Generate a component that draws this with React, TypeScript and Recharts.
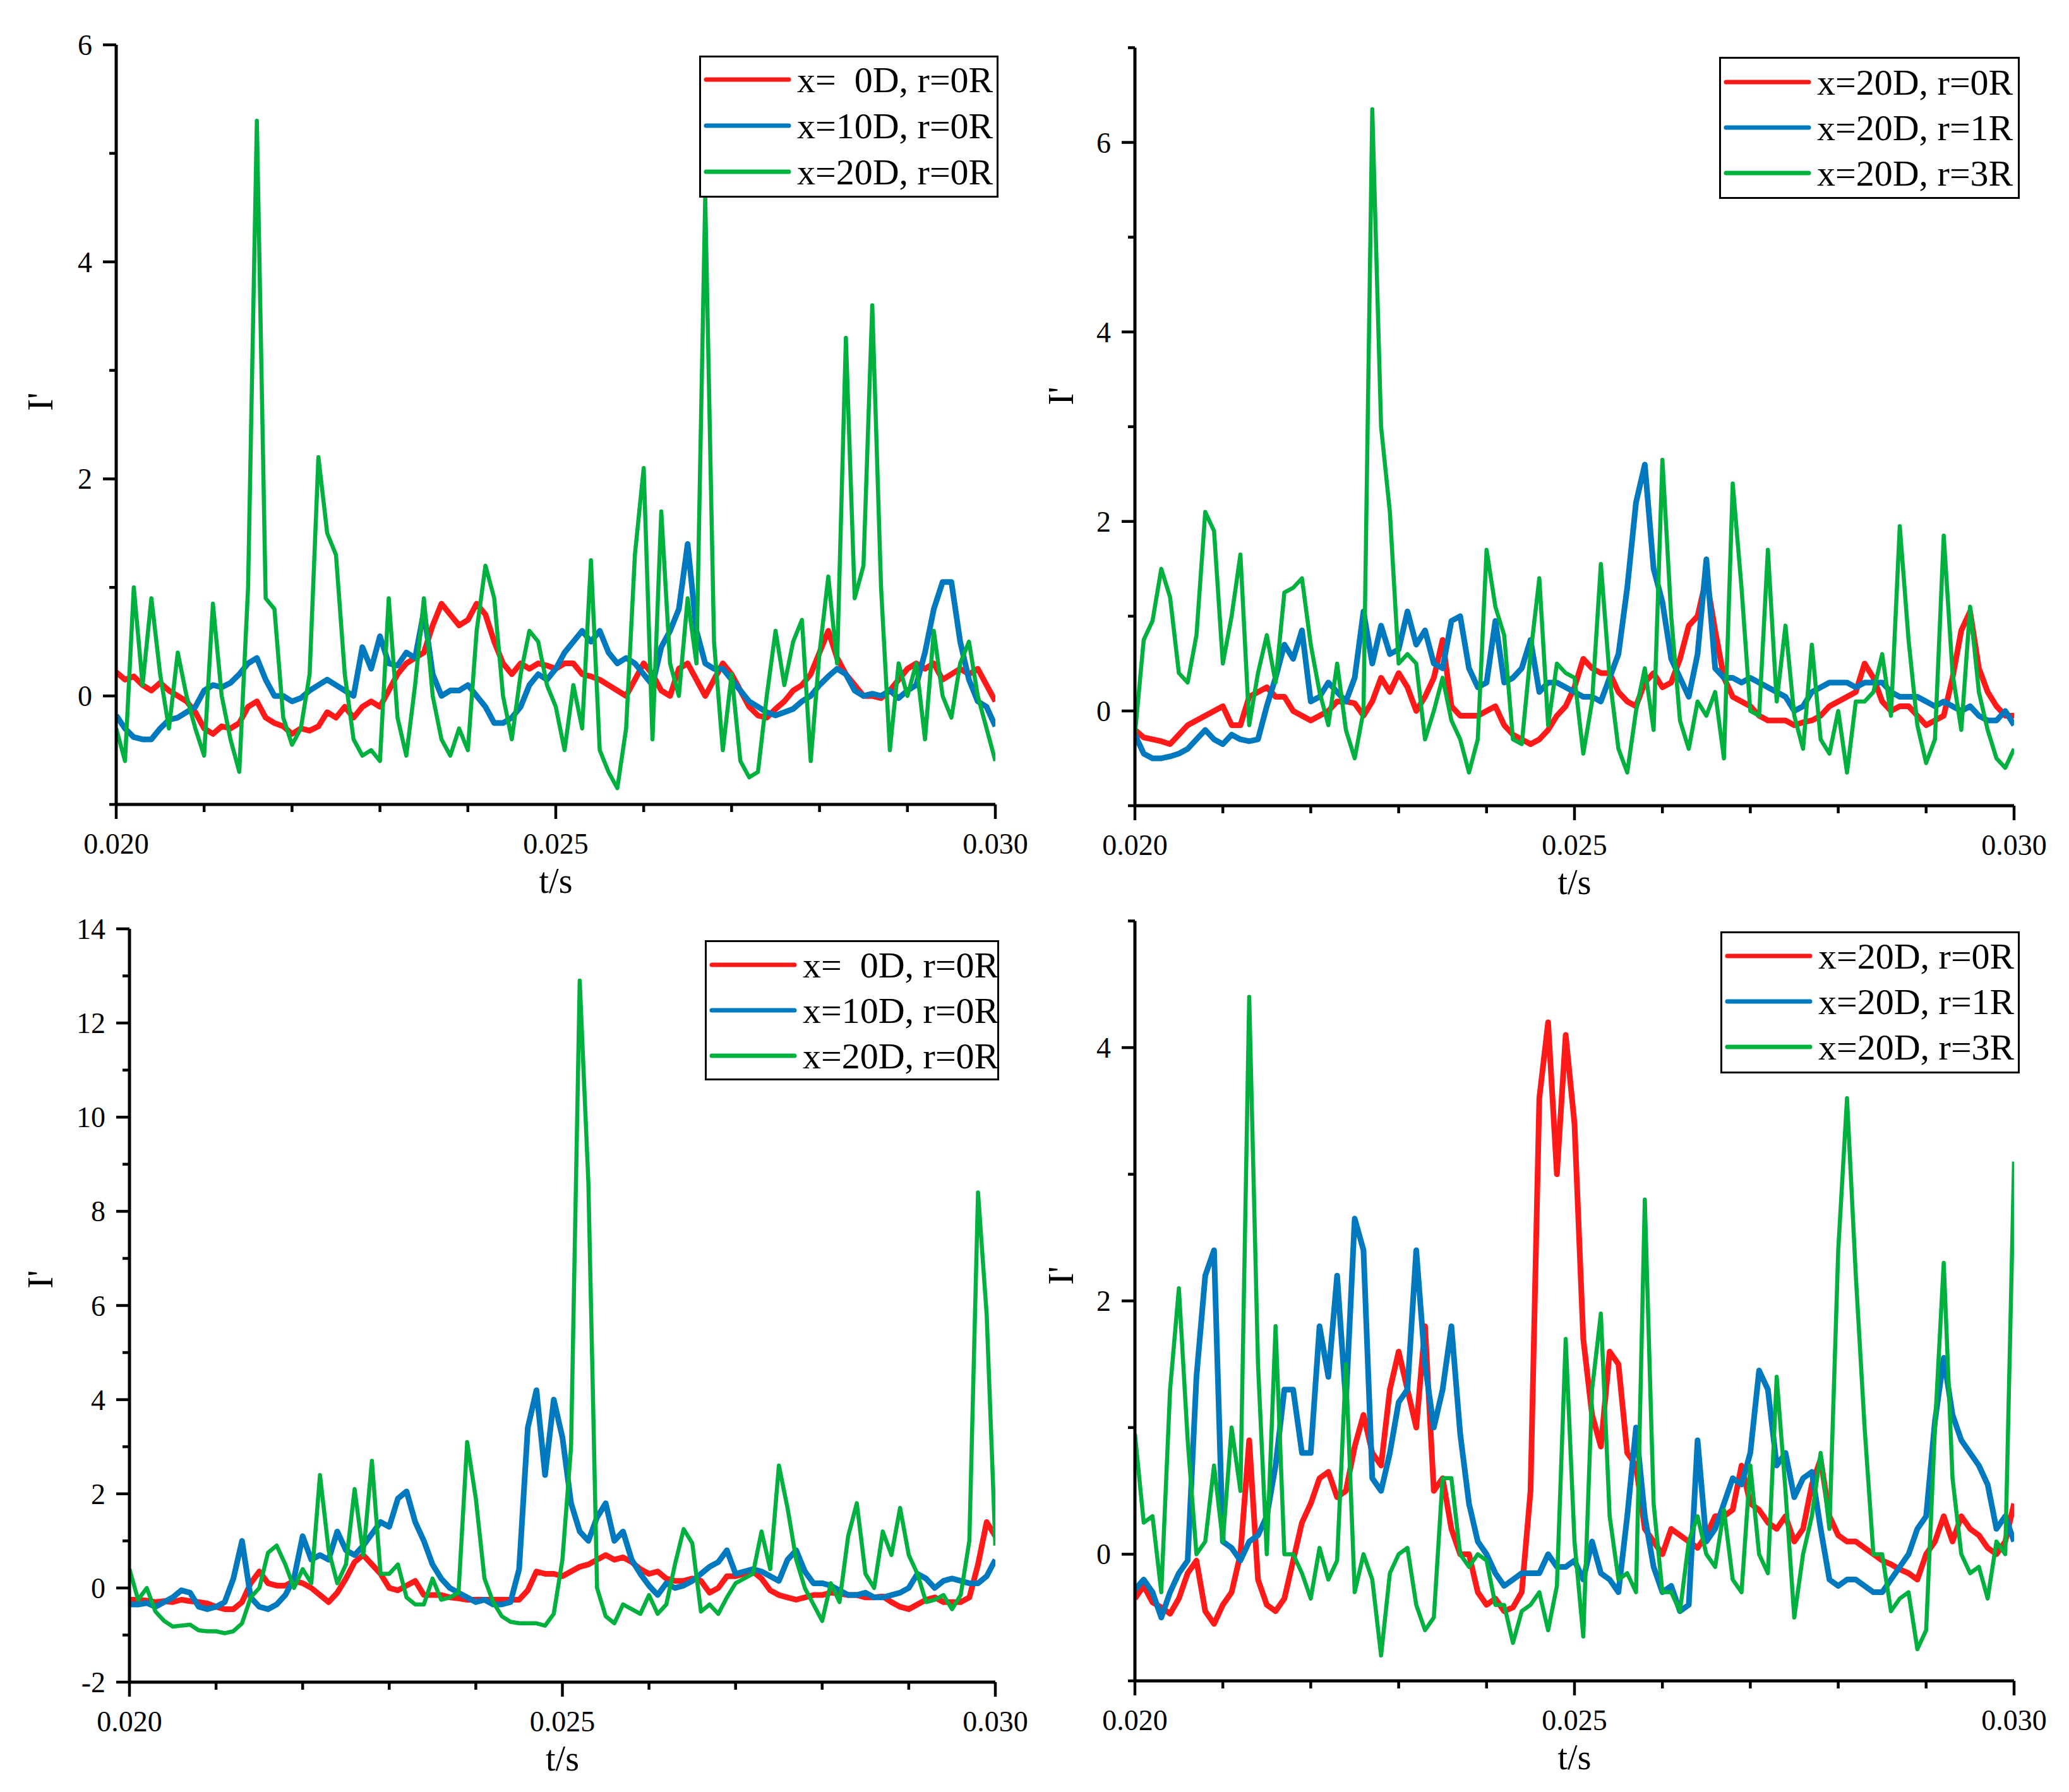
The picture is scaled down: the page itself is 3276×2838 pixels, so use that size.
import React from 'react';
import { LineChart, Line, XAxis, YAxis, Legend } from 'recharts';

const FONT = '"Liberation Serif", "Times New Roman", serif';
const COLORS = ['#FF1A1A', '#0079BF', '#00B140'];
const WIDTHS = [9, 9, 6.5];

// time grid (s)
const TIME = Array.from({ length: 101 }, (_, i) => +(0.02 + i * 0.0001).toFixed(4));
const X_TICKS = [0.02, 0.021, 0.022, 0.023, 0.024, 0.025, 0.026, 0.027, 0.028, 0.029, 0.03];
const X_MAJOR = [0.02, 0.025, 0.03];

const LABELS_X = ['x=\u00A0\u00A00D, r=0R', 'x=10D, r=0R', 'x=20D, r=0R'];
const LABELS_R = ['x=20D, r=0R', 'x=20D, r=1R', 'x=20D, r=3R'];

// panel (a) top-left
const A_RED = [
  0.22, 0.15, 0.18, 0.1, 0.05, 0.12, 0.05, 0.0, -0.05, -0.15,
  -0.3, -0.35, -0.28, -0.3, -0.25, -0.1, -0.05, -0.2, -0.25, -0.28,
  -0.35, -0.3, -0.32, -0.28, -0.15, -0.2, -0.1, -0.2, -0.1, -0.05,
  -0.1, 0.05, 0.2, 0.3, 0.35, 0.4, 0.65, 0.85, 0.75, 0.65,
  0.7, 0.85, 0.75, 0.5, 0.3, 0.2, 0.3, 0.25, 0.3, 0.28,
  0.25, 0.3, 0.3, 0.2, 0.18, 0.15, 0.1, 0.05, 0.0, 0.15,
  0.3, 0.2, 0.05, 0.0, 0.25, 0.3, 0.15, 0.0, 0.15, 0.3,
  0.2, 0.05, -0.1, -0.18, -0.2, -0.12, -0.05, 0.05, 0.1, 0.2,
  0.4, 0.6, 0.35, 0.2, 0.1, 0.0, 0.0, -0.02, 0.05, 0.15,
  0.25, 0.3, 0.25, 0.3, 0.15, 0.2, 0.25, 0.2, 0.25, 0.1,
  -0.05,
];
const A_BLUE = [
  -0.18, -0.3, -0.38, -0.4, -0.4, -0.3, -0.22, -0.2, -0.15, -0.1,
  0.05, 0.1, 0.08, 0.12, 0.2, 0.3, 0.35, 0.15, 0.0, 0.0,
  -0.05, -0.02, 0.05, 0.1, 0.15, 0.1, 0.05, 0.0, 0.45, 0.25,
  0.55, 0.3, 0.28, 0.4, 0.35, 0.78, 0.2, 0.0, 0.05, 0.05,
  0.1, 0.0, -0.1, -0.25, -0.25, -0.2, -0.1, 0.1, 0.2, 0.15,
  0.25, 0.4, 0.5, 0.6, 0.5, 0.6, 0.4, 0.3, 0.35, 0.3,
  0.2, 0.1, 0.45, 0.6, 0.8, 1.4, 0.6, 0.3, 0.25, 0.25,
  0.15, 0.05, -0.05, -0.1, -0.15, -0.18, -0.15, -0.12, -0.05, 0.0,
  0.1, 0.18, 0.25, 0.2, 0.05, 0.0, 0.02, 0.0, 0.05, -0.02,
  0.05, 0.1, 0.4, 0.8, 1.05, 1.05, 0.5, 0.15, -0.05, -0.1,
  -0.28,
];
const A_GREEN = [
  -0.3, -0.6, 1.0, 0.1, 0.9, 0.2, -0.3, 0.4, 0.0, -0.3,
  -0.55, 0.85, 0.0, -0.4, -0.7, 1.0, 5.3, 0.9, 0.8, -0.2,
  -0.45, -0.3, 0.2, 2.2, 1.5, 1.3, 0.2, -0.4, -0.55, -0.5,
  -0.6, 0.9, -0.2, -0.55, 0.1, 0.9, 0.0, -0.4, -0.55, -0.3,
  -0.5, 0.6, 1.2, 0.9, 0.0, -0.4, 0.2, 0.6, 0.5, 0.1,
  -0.1, -0.5, 0.1, -0.3, 1.25, -0.5, -0.7, -0.85, -0.3, 1.3,
  2.1, -0.4, 1.7, 0.3, 0.0, 0.9, 0.3, 4.6, 0.5, -0.5,
  0.2, -0.6, -0.75, -0.7, 0.0, 0.6, 0.1, 0.5, 0.7, -0.6,
  0.4, 1.1, 0.3, 3.3, 0.9, 1.2, 3.6, 1.0, -0.5, 0.3,
  0.0, 0.3, -0.4, 0.6, 0.0, -0.2, 0.3, 0.5, 0.0, -0.3,
  -0.6,
];

// panel (b) top-right
const B_RED = [
  -0.2, -0.28, -0.3, -0.32, -0.35, -0.25, -0.15, -0.1, -0.05, 0.0,
  0.05, -0.15, -0.15, 0.15, 0.2, 0.25, 0.15, 0.15, 0.0, -0.05,
  -0.1, -0.05, 0.0, 0.1, 0.1, 0.08, -0.05, 0.1, 0.35, 0.2,
  0.4, 0.25, 0.0, 0.15, 0.35, 0.75, 0.05, -0.05, -0.05, -0.05,
  0.0, 0.05, -0.15, -0.25, -0.3, -0.35, -0.3, -0.2, -0.05, 0.05,
  0.25, 0.55, 0.45, 0.4, 0.4, 0.2, 0.1, 0.05, 0.3, 0.4,
  0.25, 0.3, 0.55, 0.9, 1.0, 1.4, 0.85, 0.35, 0.15, 0.1,
  0.05, -0.05, -0.1, -0.1, -0.1, -0.15, -0.12, -0.1, -0.05, 0.05,
  0.1, 0.15, 0.2, 0.5, 0.35, 0.1, 0.0, 0.05, 0.05, -0.05,
  -0.15, -0.1, -0.05, 0.35, 0.85, 1.05, 0.45, 0.2, 0.05, -0.05,
  -0.05,
];
const B_BLUE = [
  -0.25, -0.45, -0.5, -0.5, -0.48, -0.45, -0.4, -0.3, -0.2, -0.3,
  -0.35, -0.25, -0.3, -0.32, -0.3, 0.05, 0.35, 0.7, 0.55, 0.85,
  0.1, 0.15, 0.3, 0.2, 0.1, 0.35, 1.05, 0.5, 0.9, 0.6,
  0.65, 1.05, 0.7, 0.85, 0.5, 0.45, 0.95, 1.0, 0.45, 0.25,
  0.3, 0.95, 0.3, 0.35, 0.45, 0.75, 0.2, 0.3, 0.3, 0.25,
  0.2, 0.15, 0.15, 0.1, 0.35, 0.6, 1.3, 2.2, 2.6, 1.5,
  1.15, 0.55, 0.35, 0.15, 0.6, 1.6, 0.45, 0.35, 0.35, 0.3,
  0.35, 0.3, 0.25, 0.2, 0.15, 0.0, 0.05, 0.2, 0.25, 0.3,
  0.3, 0.3, 0.25, 0.3, 0.3, 0.3, 0.2, 0.15, 0.15, 0.15,
  0.1, 0.05, 0.1, 0.05, 0.0, 0.05, -0.05, -0.1, -0.1, 0.0,
  -0.15,
];
const B_GREEN = [
  -0.25, 0.75, 0.95, 1.5, 1.2, 0.4, 0.3, 0.8, 2.1, 1.9,
  0.5, 1.0, 1.65, -0.15, 0.4, 0.8, 0.3, 1.25, 1.3, 1.4,
  0.7, 0.2, -0.15, 0.5, -0.2, -0.5, 0.0, 6.35, 3.0, 2.1,
  0.5, 0.6, 0.5, -0.3, 0.0, 0.35, -0.1, -0.3, -0.65, -0.3,
  1.7, 1.1, 0.8, -0.3, -0.35, 0.6, 1.4, -0.15, 0.5, 0.4,
  0.35, -0.45, 0.1, 1.55, 0.35, -0.4, -0.65, 0.0, 0.45, -0.2,
  2.65, 1.0, -0.1, -0.4, 0.1, -0.05, 0.2, -0.5, 2.4, 1.3,
  0.0, -0.05, 1.7, 0.1, 0.9, -0.05, -0.4, 0.7, -0.3, -0.45,
  0.0, -0.65, 0.1, 0.1, 0.2, 0.6, -0.05, 1.95, 0.75, -0.15,
  -0.55, -0.3, 1.85, 0.4, -0.2, 1.1, 0.2, -0.2, -0.5, -0.6,
  -0.4,
];

// panel (c) bottom-left
const C_RED = [
  -0.25, -0.25, -0.27, -0.3, -0.28, -0.3, -0.25, -0.28, -0.3, -0.33,
  -0.4, -0.45, -0.45, -0.3, 0.1, 0.35, 0.1, 0.05, 0.05, 0.15,
  0.1, 0.0, -0.15, -0.3, -0.1, 0.2, 0.55, 0.7, 0.5, 0.3,
  0.0, -0.05, 0.05, 0.15, -0.15, -0.15, -0.15, -0.2, -0.22, -0.25,
  -0.25, -0.25, -0.25, -0.25, -0.25, -0.25, -0.05, 0.35, 0.3, 0.3,
  0.25, 0.35, 0.45, 0.5, 0.6, 0.7, 0.6, 0.65, 0.55, 0.4,
  0.3, 0.35, 0.2, 0.15, 0.15, 0.2, 0.15, -0.1, 0.0, 0.25,
  0.25, 0.3, 0.35, 0.2, -0.05, -0.15, -0.2, -0.25, -0.2, -0.15,
  -0.15, -0.1, -0.12, -0.15, -0.15, -0.2, -0.2, -0.18, -0.3, -0.4,
  -0.45, -0.35, -0.25, -0.2, -0.3, -0.3, -0.3, -0.2, 0.5, 1.4,
  1.1,
];
const C_BLUE = [
  -0.35, -0.35, -0.32, -0.4, -0.3, -0.2, -0.05, -0.1, -0.4, -0.45,
  -0.4, -0.3, 0.2, 1.0, -0.2, -0.4, -0.45, -0.35, -0.15, 0.2,
  1.1, 0.6, 0.7, 0.6, 1.2, 0.8, 0.7, 0.9, 1.15, 1.4,
  1.3, 1.9, 2.05, 1.4, 1.0, 0.5, 0.2, 0.0, -0.1, -0.2,
  -0.3, -0.25, -0.35, -0.35, -0.3, 0.4, 3.4, 4.2, 2.4, 4.0,
  3.2, 1.8, 1.2, 1.0, 1.5, 1.8, 1.0, 1.2, 0.6, 0.3,
  0.05, -0.15, 0.1, 0.0, 0.05, 0.15, 0.3, 0.45, 0.55, 0.8,
  0.3, 0.35, 0.4, 0.35, 0.25, 0.15, 0.6, 0.8, 0.35, 0.1,
  0.1, 0.05, -0.05, -0.15, -0.15, -0.1, -0.2, -0.2, -0.15, -0.1,
  0.0, 0.3, 0.2, 0.0, 0.15, 0.2, 0.15, 0.1, 0.1, 0.25,
  0.6,
];
const C_GREEN = [
  0.4, -0.25, 0.0, -0.5, -0.7, -0.82, -0.8, -0.78, -0.9, -0.92,
  -0.92, -0.96, -0.92, -0.75, -0.2, 0.0, 0.75, 0.9, 0.5, 0.0,
  0.4, 0.1, 2.4, 0.8, 0.1, 0.5, 2.1, 0.7, 2.7, 0.3,
  0.3, 0.5, -0.2, -0.35, -0.35, 0.2, -0.25, -0.2, -0.1, 3.1,
  1.9, 0.2, -0.3, -0.6, -0.72, -0.75, -0.75, -0.75, -0.8, -0.55,
  0.6, 3.0, 12.9, 8.6, 0.0, -0.6, -0.75, -0.35, -0.45, -0.55,
  -0.15, -0.55, -0.35, 0.5, 1.25, 0.95, -0.5, -0.35, -0.55, -0.2,
  0.1, 0.2, 0.3, 1.2, 0.4, 2.6, 1.7, 0.6, 0.0, -0.35,
  -0.7, 0.1, -0.3, 1.1, 1.8, 0.3, 0.0, 1.2, 0.7, 1.7,
  0.7, 0.3, -0.3, -0.25, -0.15, -0.45, -0.15, 1.0, 8.4, 5.8,
  0.9,
];

// panel (d) bottom-right
const D_RED = [
  -0.35, -0.25, -0.38, -0.42, -0.47, -0.35, -0.15, -0.05, -0.45, -0.55,
  -0.4, -0.3, 0.0, 0.9, -0.2, -0.4, -0.45, -0.35, -0.05, 0.25,
  0.4, 0.6, 0.65, 0.45, 0.5, 0.85, 1.1, 0.8, 0.7, 1.3,
  1.6, 1.3, 1.0, 1.8, 0.5, 0.6, 0.2, 0.0, 0.0, -0.3,
  -0.4, -0.35, -0.45, -0.42, -0.3, 0.5, 3.6, 4.2, 3.0, 4.1,
  3.4, 1.7, 1.1, 0.85, 1.6, 1.5, 0.8, 0.7, 0.2, 0.1,
  0.0, 0.2, 0.15, 0.1, 0.05, 0.15, 0.3, 0.3, 0.35, 0.7,
  0.4, 0.35, 0.25, 0.2, 0.3, 0.1, 0.2, 0.55, 0.75, 0.3,
  0.15, 0.1, 0.1, 0.05, 0.0, -0.05, -0.08, -0.12, -0.15, -0.2,
  0.0, 0.1, 0.3, 0.1, 0.3, 0.2, 0.15, 0.05, 0.0, 0.1,
  0.4,
];
const D_BLUE = [
  -0.28, -0.2, -0.3, -0.5, -0.3, -0.15, -0.05, 1.4, 2.2, 2.4,
  0.1, 0.05, -0.05, 0.1, 0.15, 0.3, 0.7, 1.3, 1.3, 0.8,
  0.8, 1.8, 1.4, 2.2, 1.2, 2.65, 2.4, 0.6, 0.5, 0.8,
  1.2, 1.3, 2.4, 1.5, 1.0, 1.3, 1.8, 0.95, 0.4, 0.1,
  0.0, -0.15, -0.25, -0.2, -0.15, -0.15, -0.15, 0.0, -0.1, -0.1,
  -0.05, -0.2, 0.1, -0.15, -0.2, -0.3, 0.3, 1.0, 0.3, -0.1,
  -0.3, -0.25, -0.45, -0.4, 0.9, 0.1, 0.2, 0.4, 0.6, 0.55,
  0.8, 1.45, 1.3, 0.7, 0.8, 0.45, 0.6, 0.65, 0.2, -0.2,
  -0.25, -0.2, -0.2, -0.25, -0.3, -0.3, -0.2, -0.1, 0.0, 0.2,
  0.3, 1.05, 1.55, 1.1, 0.9, 0.8, 0.7, 0.55, 0.2, 0.3,
  0.1,
];
const D_GREEN = [
  0.95, 0.25, 0.3, -0.3, 1.3, 2.1, 0.9, 0.0, 0.1, 0.7,
  0.1, 1.0, 0.5, 4.4, 1.5, 0.0, 1.8, 0.0, 0.0, -0.15,
  -0.35, 0.05, -0.2, -0.05, 1.5, -0.3, 0.0, -0.2, -0.8, -0.15,
  0.0, 0.05, -0.4, -0.6, -0.5, 0.6, 0.6, 0.0, -0.1, 0.0,
  -0.05, -0.4, -0.4, -0.7, -0.45, -0.4, -0.3, -0.6, -0.25, 1.7,
  0.1, -0.65, 1.3, 1.9, 0.3, -0.2, -0.15, -0.3, 2.8, 0.4,
  -0.3, -0.3, -0.45, 0.1, 0.3, 0.0, -0.1, 0.35, -0.2, -0.3,
  0.7, 0.0, -0.15, 1.4, 0.5, -0.5, 0.0, 0.3, 0.8, 0.2,
  2.4, 3.6, 2.2, 1.0, 0.0, 0.0, -0.45, -0.35, -0.3, -0.75,
  -0.6, 1.0, 2.3, 0.6, 0.0, -0.15, -0.1, -0.35, 0.1, 0.0,
  3.1,
];

const A_Y_TICKS = [-1, 0, 1, 2, 3, 4, 5, 6];
const B_Y_TICKS = [-1, 0, 1, 2, 3, 4, 5, 6, 7];
const C_Y_TICKS = [-2, -1, 0, 1, 2, 3, 4, 5, 6, 7, 8, 9, 10, 11, 12, 13, 14];
const D_Y_TICKS = [-1, 0, 1, 2, 3, 4, 5];

const PANELS = [
  {
    key: 'a', left: 0, top: 0, width: 1638, height: 1440,
    plot: { left: 184, top: 71, right: 1576, bottom: 1274 },
    yDomain: [-1, 6], yTicks: A_Y_TICKS, yMajor: [0, 2, 4, 6],
    series: [A_RED, A_BLUE, A_GREEN], labels: LABELS_X,
    legend: { left: 1107, top: 88, width: 474, height: 225, rows: [38, 111, 184] },
    yLabel: { x: 83, y: 636 },
  },
  {
    key: 'b', left: 1638, top: 0, width: 1638, height: 1440,
    plot: { left: 159, top: 75.5, right: 1551, bottom: 1276 },
    yDomain: [-1, 7], yTicks: B_Y_TICKS, yMajor: [0, 2, 4, 6],
    series: [B_RED, B_BLUE, B_GREEN], labels: LABELS_R,
    legend: { left: 1084, top: 90, width: 476, height: 225, rows: [40, 112, 184] },
    yLabel: { x: 61, y: 627 },
  },
  {
    key: 'c', left: 0, top: 1440, width: 1638, height: 1398,
    plot: { left: 205, top: 31, right: 1576, bottom: 1224 },
    yDomain: [-2, 14], yTicks: C_Y_TICKS, yMajor: [-2, 0, 2, 4, 6, 8, 10, 12, 14],
    series: [C_RED, C_BLUE, C_GREEN], labels: LABELS_X,
    legend: { left: 1116, top: 49, width: 466, height: 222, rows: [39, 111, 183] },
    yLabel: { x: 83, y: 586 },
  },
  {
    key: 'd', left: 1638, top: 1440, width: 1638, height: 1398,
    plot: { left: 159, top: 18.5, right: 1551, bottom: 1222 },
    yDomain: [-1, 5], yTicks: D_Y_TICKS, yMajor: [0, 2, 4],
    series: [D_RED, D_BLUE, D_GREEN], labels: LABELS_R,
    legend: { left: 1086, top: 35, width: 474, height: 225, rows: [39, 111, 183] },
    yLabel: { x: 61, y: 580 },
  },
];

const YW = 100;
const XH = 140;

const near = (v: number, list: number[]) => list.some((m) => Math.abs(m - v) < 1e-7);

const XTick = (props: any) => {
  const { x, y, payload } = props;
  const major = near(payload.value, X_MAJOR);
  return (
    <g>
      <line x1={x} x2={x} y1={y} y2={y + (major ? 23 : 12)} stroke="#000" strokeWidth={4.5} />
      {major && (
        <text x={x} y={y + 78} textAnchor="middle" fontFamily={FONT} fontSize={46} fill="#000">
          {Number(payload.value).toFixed(3)}
        </text>
      )}
    </g>
  );
};

const makeYTick = (majors: number[]) => (props: any) => {
  const { x, y, payload } = props;
  const major = near(payload.value, majors);
  return (
    <g>
      <line x1={x - (major ? 21 : 11)} x2={x} y1={y} y2={y} stroke="#000" strokeWidth={4.5} />
      {major && (
        <text x={x - 38} y={y + 16} textAnchor="end" fontFamily={FONT} fontSize={46} fill="#000">
          {String(payload.value)}
        </text>
      )}
    </g>
  );
};

const LegendBox = ({ labels, w, h, rows }: { labels: string[]; w: number; h: number; rows: number[] }) => (
  <svg width={w} height={h} style={{ display: 'block' }}>
    <rect x={1.5} y={1.5} width={w - 3} height={h - 3} fill="#fff" stroke="#000" strokeWidth={3} />
    {labels.map((lab, i) => (
      <g key={lab + i}>
        <line x1={11} x2={142} y1={rows[i]} y2={rows[i]} stroke={COLORS[i]} strokeWidth={7} strokeLinecap="round" />
        <text x={155} y={rows[i] + 20} fontFamily={FONT} fontSize={58} fill="#000">
          {lab}
        </text>
      </g>
    ))}
  </svg>
);

function Panel({ p }: { p: any }) {
  const data = TIME.map((t, i) => ({ t, s0: p.series[0][i], s1: p.series[1][i], s2: p.series[2][i] }));
  const margin = {
    top: p.plot.top,
    left: p.plot.left - YW,
    right: p.width - p.plot.right,
    bottom: p.height - p.plot.bottom - XH,
  };
  const cx = (p.plot.left + p.plot.right) / 2;
  return (
    <div style={{ position: 'absolute', left: p.left, top: p.top, width: p.width, height: p.height }}>
      <LineChart width={p.width} height={p.height} margin={margin} data={data}>
        <XAxis
          dataKey="t"
          type="number"
          domain={[0.02, 0.03]}
          ticks={X_TICKS}
          interval={0}
          height={XH}
          tickSize={0}
          tickMargin={0}
          tickLine={false}
          allowDataOverflow
          axisLine={{ stroke: '#000', strokeWidth: 5 }}
          tick={<XTick />}
          label={() => (
            <text x={cx} y={p.plot.bottom + 140} textAnchor="middle" fontFamily={FONT} fontSize={56} fill="#000">
              t/s
            </text>
          )}
        />
        <YAxis
          type="number"
          domain={p.yDomain}
          ticks={p.yTicks}
          interval={0}
          width={YW}
          tickSize={0}
          tickMargin={0}
          tickLine={false}
          allowDataOverflow
          axisLine={{ stroke: '#000', strokeWidth: 5 }}
          tick={makeYTick(p.yMajor)}
          label={() => (
            <text
              x={p.yLabel.x}
              y={p.yLabel.y}
              textAnchor="middle"
              fontFamily={FONT}
              fontSize={57}
              fill="#000"
              transform={`rotate(-90, ${p.yLabel.x}, ${p.yLabel.y})`}
            >
              I'
            </text>
          )}
        />
        <Legend
          layout="vertical"
          align="center"
          verticalAlign="middle"
          wrapperStyle={{ left: p.legend.left, top: p.legend.top, width: p.legend.width, height: p.legend.height }}
          content={() => <LegendBox labels={p.labels} w={p.legend.width} h={p.legend.height} rows={p.legend.rows} />}
        />
        {[0, 1, 2].map((k) => (
          <Line
            key={k}
            type="linear"
            dataKey={`s${k}`}
            name={p.labels[k]}
            stroke={COLORS[k]}
            strokeWidth={WIDTHS[k]}
            strokeLinejoin="round"
            dot={false}
            activeDot={false}
            isAnimationActive={false}
          />
        ))}
      </LineChart>
    </div>
  );
}

export default function App() {
  return (
    <div style={{ position: 'absolute', left: 0, top: 0, width: 3276, height: 2838, background: '#fff', fontFamily: FONT }}>
      {PANELS.map((p) => (
        <Panel key={p.key} p={p} />
      ))}
    </div>
  );
}
